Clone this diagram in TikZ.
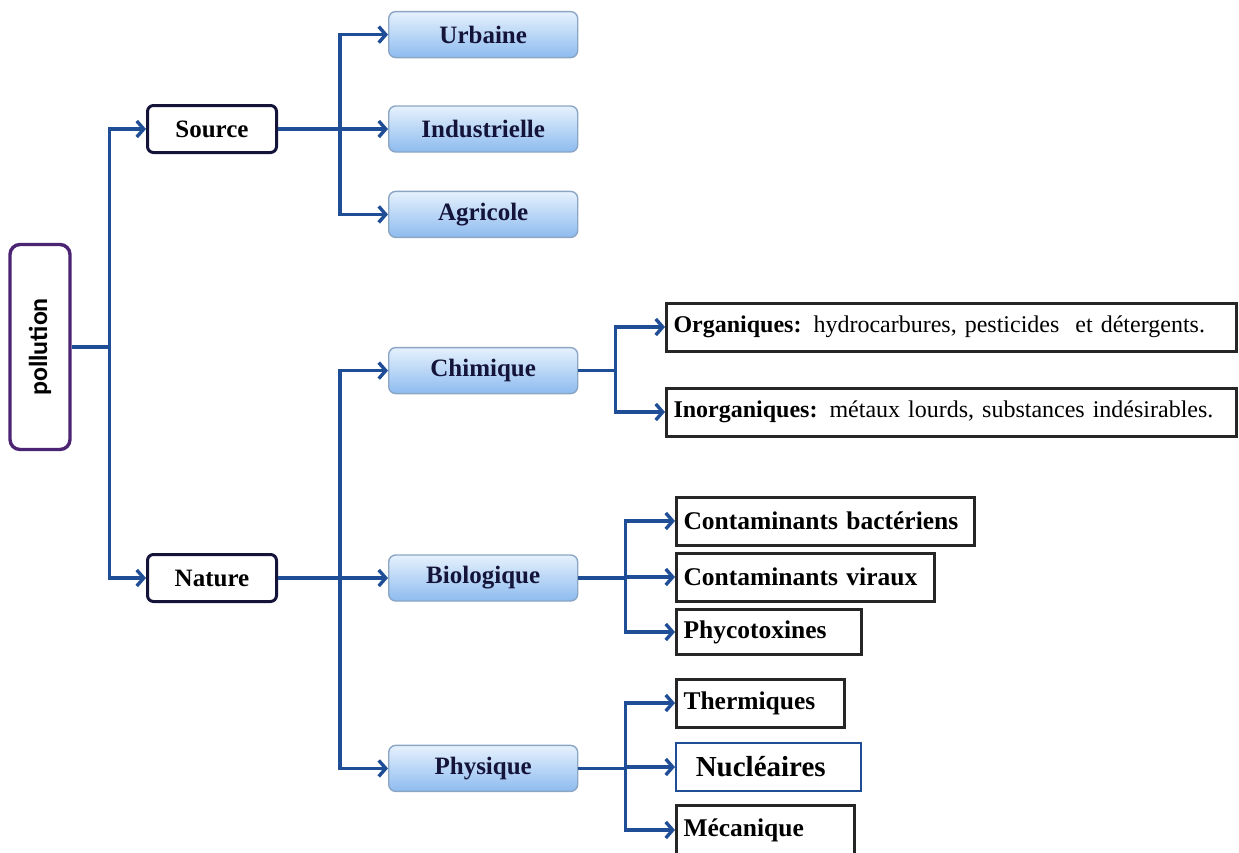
\documentclass[tikz,border=0pt]{standalone}
\usepackage{fontspec}
\usepackage{graphicx}
\setmainfont{Liberation Serif}
\newfontfamily\polfont{Carlito}
\usetikzlibrary{positioning,arrows.meta}
\definecolor{linkblue}{HTML}{1F4E96}
\definecolor{polpurple}{HTML}{4B2473}
\definecolor{boxtop}{HTML}{E6F1FD}
\definecolor{boxbot}{HTML}{8DBBEF}
\definecolor{boxedge}{HTML}{8AA6C4}
\definecolor{navy}{HTML}{14143A}

\begin{document}
\begin{tikzpicture}[x=1pt, y=1pt,
    main node/.style={rectangle, rounded corners=6pt, draw=navy, line width=3pt, fill=white, minimum width=129pt, minimum height=47pt, font=\bfseries\fontsize{25}{28}\selectfont},
    sub node/.style={rectangle, rounded corners=7pt, draw=boxedge, line width=1.4pt, top color=boxtop, bottom color=boxbot, minimum width=189pt, minimum height=46pt, text=navy, font=\bfseries\fontsize{25}{28}\selectfont},
    leaf node/.style={rectangle, draw=black!85, line width=3pt, anchor=west, minimum height=48pt, inner xsep=7pt, align=left, font=\bfseries\fontsize{25.5}{28}\selectfont},
    link/.style={draw=linkblue, line width=3.4pt},
    arr/.style={link, -{Straight Barb[length=7pt, width=16pt]}},
    elbow/.style={to path={|- (\tikztotarget)}}]
        \useasboundingbox (0,0) rectangle (1239,-852);

          % root and first level
          \node[rectangle, rounded corners=10pt, draw=polpurple, line width=3.4pt, minimum width=60pt, minimum height=205pt, font=\polfont\bfseries\fontsize{26}{28}\selectfont] (pol) at (40,-347) {\rotatebox{90}{pollution}};
          \node[main node] (src) at (212,-129) {Source};
          \node[main node] (nat) at (212,-578) {Nature};

          % second level
          \node[sub node] (ind) [right=110pt of src] {Industrielle};
          \node[sub node] (urb) [above=47pt of ind] {Urbaine};
          \node[sub node] (agr) [below=38pt of ind] {Agricole};
          \node[sub node] (bio) [right=110pt of nat] {Biologique};
          \node[sub node] (chi) [above=160pt of bio] {Chimique};
          \node[sub node] (phy) [below=143pt of bio] {Physique};

          % leaves
          \node[leaf node, text width=556pt, font=\bfseries\fontsize{24}{27}\selectfont] (org) at (665,-327) {Organiques: {\mdseries hydrocarbures, pesticides\ \ et détergents.}};
          \node[leaf node, text width=556pt, font=\bfseries\fontsize{24}{27}\selectfont] (ino) at (665,-412) {Inorganiques: {\mdseries métaux lourds, substances indésirables.}};
          \node[leaf node, text width=284pt] (bac) at (675,-521) {Contaminants bactériens};
          \node[leaf node, text width=244pt] (vir) at (675,-577) {Contaminants viraux};
          \node[leaf node, text width=171pt, minimum height=45pt] (pht) at (675,-632) {Phycotoxines};
          \node[leaf node, text width=154pt] (the) at (675,-703) {Thermiques};
          \node[leaf node, draw=linkblue, line width=1.6pt, inner xsep=20pt, text width=145pt, font=\bfseries\fontsize{29}{32}\selectfont] (nuc) at (675,-767) {Nucléaires};
          \node[leaf node, text width=164pt, minimum height=50pt] (mec) at (675,-830) {Mécanique};

          % forks
          \coordinate (f1) at ([xshift=38pt]pol.east);
          \coordinate (f2) at ([xshift=62pt]src.east);
          \coordinate (f3) at ([xshift=62pt]nat.east);
          \coordinate (f4) at ([xshift=37pt]chi.east);
          \coordinate (f5) at ([xshift=47pt]bio.east);
          \coordinate (f6) at ([xshift=47pt]phy.east);

          \path[every edge/.style={link}] (pol) edge (f1)
                (chi) edge (f4)
                (bio) edge (f5)
                (phy) edge (f6);
          \path[every edge/.style={arr}] (f1) edge[elbow] (src)
                edge[elbow] (nat);
          \path[every edge/.style={arr}] (src) edge (ind)
                (f2) edge[elbow] (urb)
                edge[elbow] (agr);
          \path[every edge/.style={arr}] (nat) edge (bio)
                (f3) edge[elbow] (chi)
                edge[elbow] (phy);
          \path[every edge/.style={arr}] (f4) edge[elbow] (org)
                edge[elbow] (ino);
          \path[every edge/.style={arr}] (f5) edge[elbow] (bac)
                edge[elbow] (vir)
                edge[elbow] (pht);
          \path[every edge/.style={arr}] (f6) edge[elbow] (the)
                edge[elbow] (nuc)
                edge[elbow] (mec);

        \end{tikzpicture}
\end{document}
